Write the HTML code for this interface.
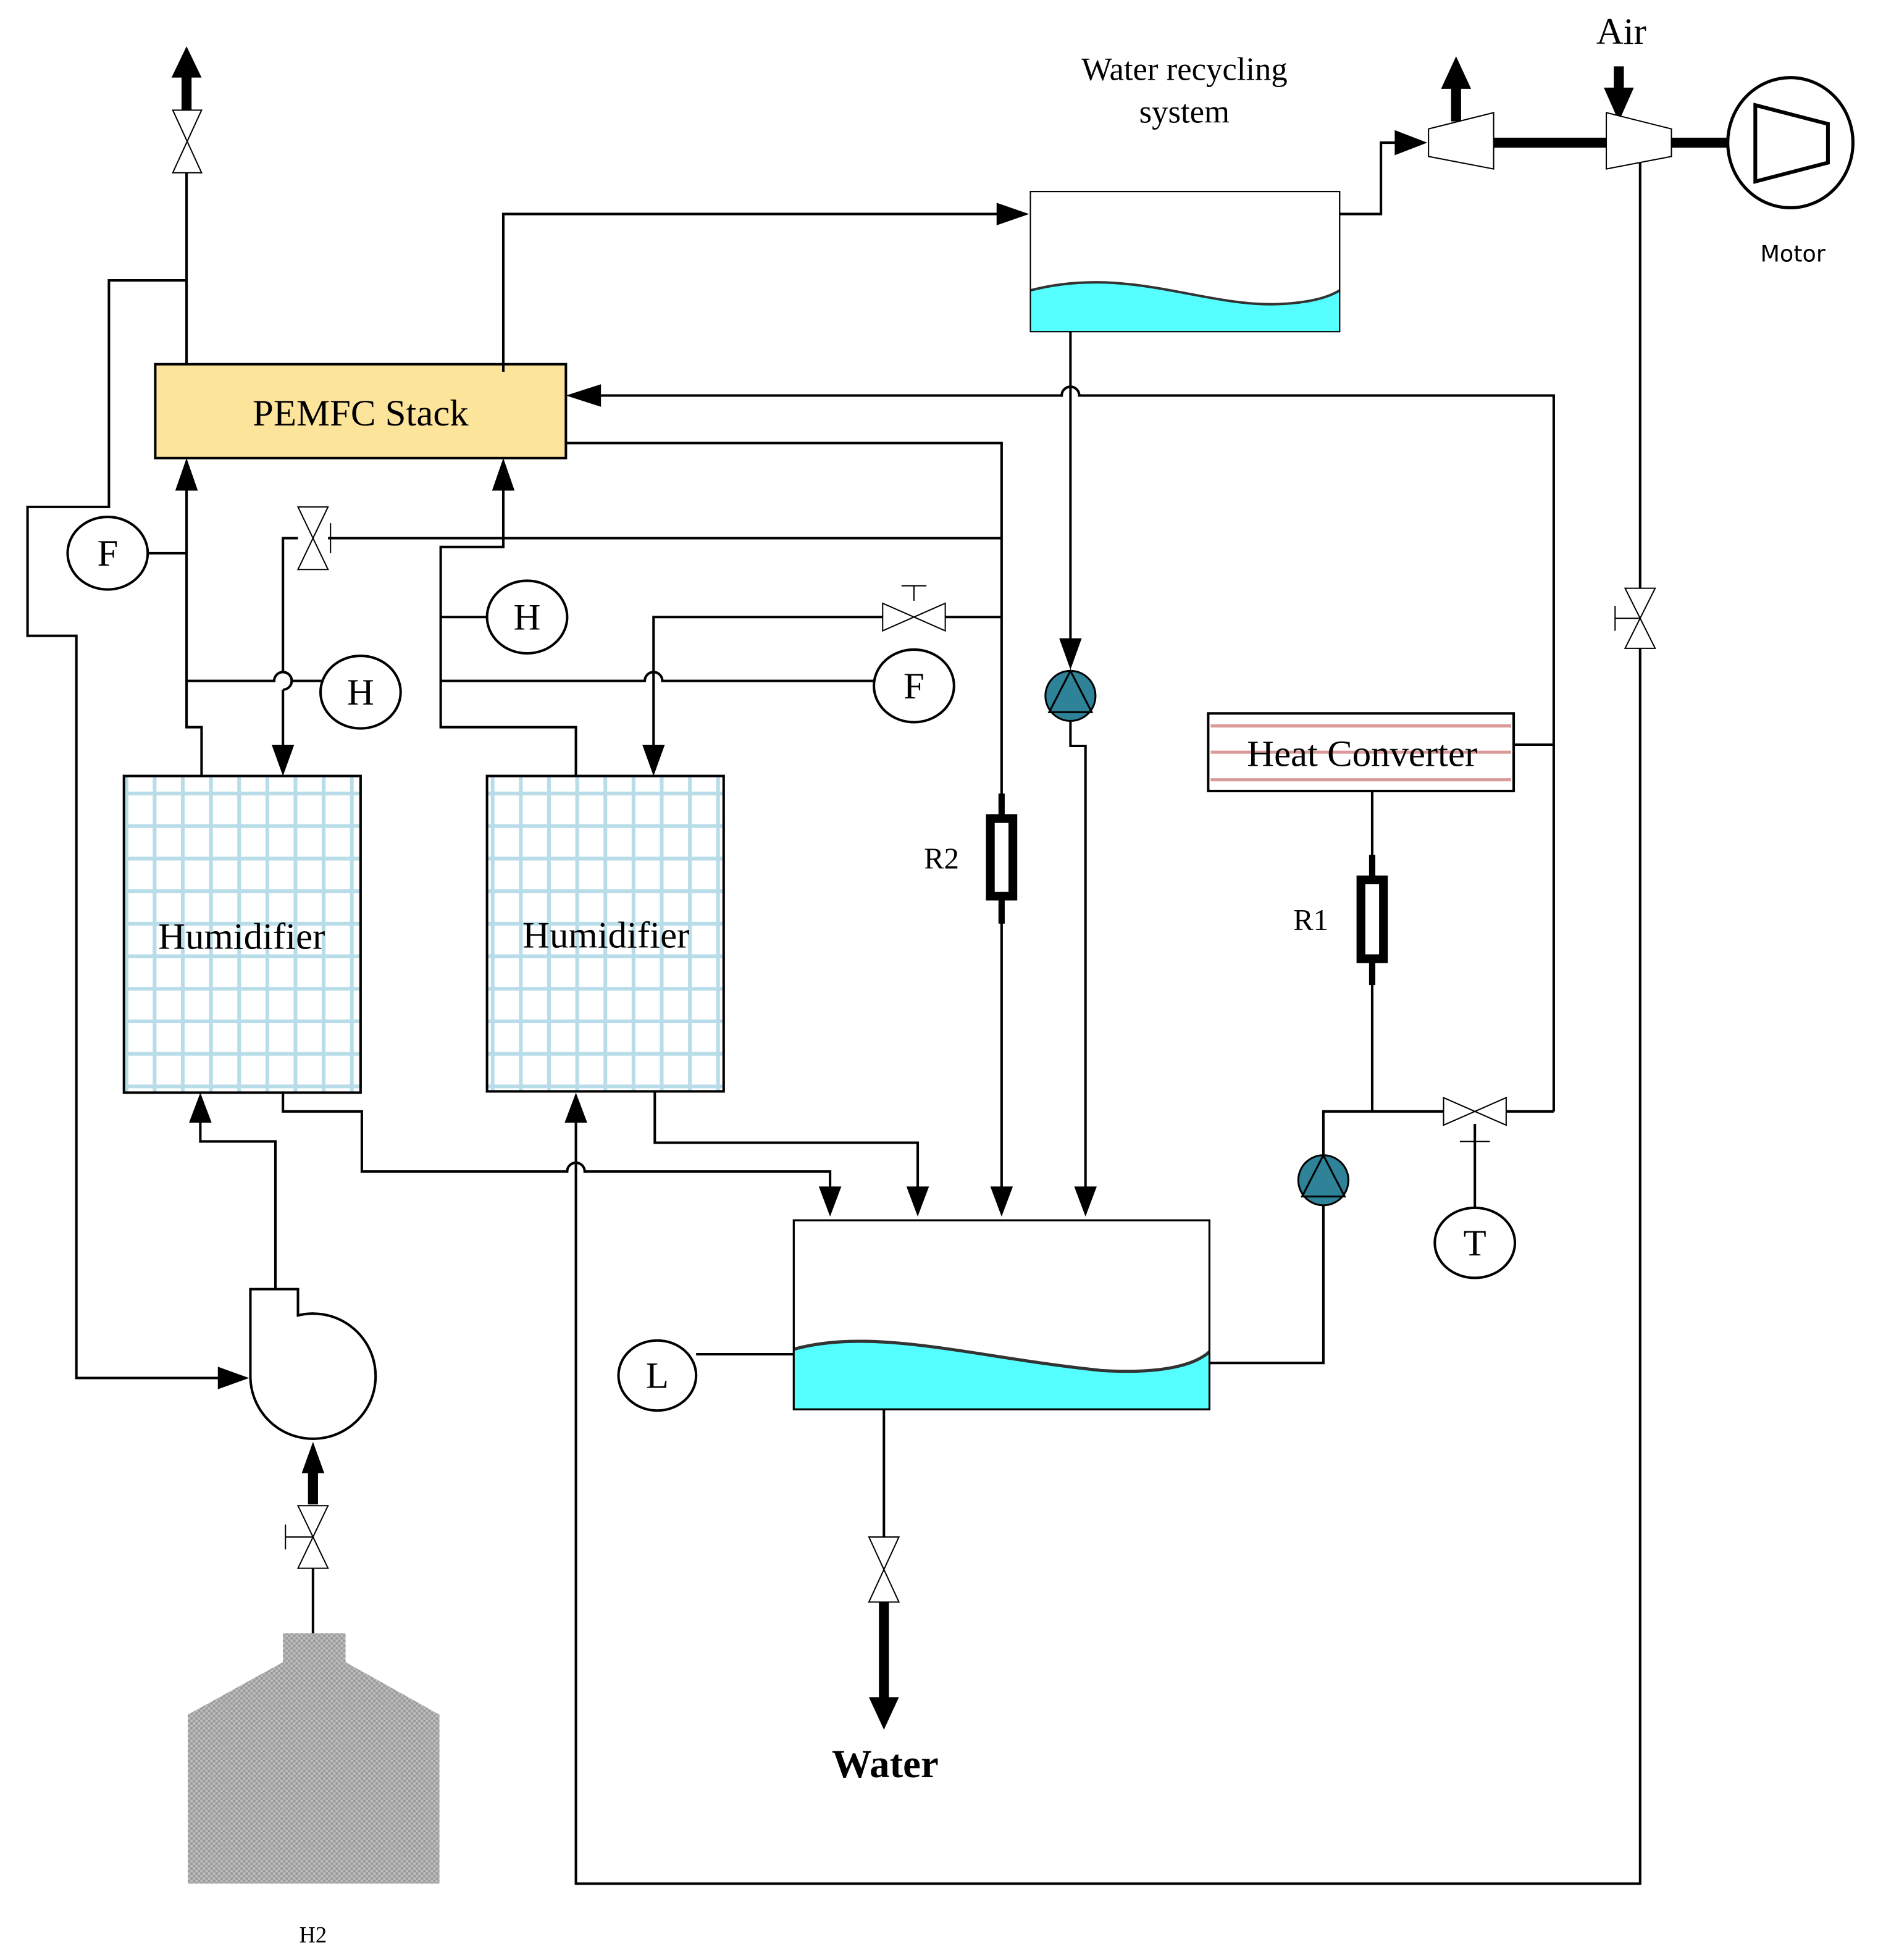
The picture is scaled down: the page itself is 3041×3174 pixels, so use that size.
<!DOCTYPE html>
<html><head><meta charset="utf-8"><style>
html,body{margin:0;padding:0;background:#fff}
svg{display:block}
text{font-family:"Liberation Serif",serif}
</style></head><body>
<svg xmlns="http://www.w3.org/2000/svg" width="3041" height="3174" viewBox="0 0 1500 1566" preserveAspectRatio="none">
<defs>
<pattern id="grid" x="0" y="0" width="22.5" height="26" patternUnits="userSpaceOnUse">
<rect width="22.5" height="26" fill="#fff"/>
<line x1="11" y1="0" x2="11" y2="26" stroke="#b8dde8" stroke-width="3"/>
<line x1="0" y1="10" x2="22.5" y2="10" stroke="#b8dde8" stroke-width="3"/>
</pattern>
<pattern id="hatch" width="4" height="4" patternUnits="userSpaceOnUse">
<rect width="4" height="4" fill="#bdbdbd"/><rect width="2" height="2" fill="#9a9a9a"/><rect x="2" y="2" width="2" height="2" fill="#9a9a9a"/>
</pattern>
</defs>
<g fill="none" stroke="#000" stroke-width="2">
<line x1="149" y1="138" x2="149" y2="291"/>
<polyline points="149,224 87,224 87,405 22,405 22,508 61,508 61,1101 180,1101"/>
<polyline points="402,297 402,171 800,171"/>
<polyline points="1070,171 1103,171 1103,114 1120,114"/>
<path d="M1241,888 L1241,316 L862,316 A7,7 0 0 0 848,316 L472,316"/>
<line x1="1209" y1="595" x2="1241" y2="595"/>
<polyline points="1203,888 1241,888"/>
<polyline points="1153,888 1057,888 1057,923"/>
<line x1="1096" y1="632" x2="1096" y2="888"/>
<line x1="1178" y1="898" x2="1178" y2="965"/>
<line x1="1166" y1="912" x2="1190" y2="912" stroke-width="1"/>
<polyline points="1057,963 1057,1089 966,1089"/>
<polyline points="452,354 800,354 800,952"/>
<polyline points="800,430 262,430"/>
<polyline points="238,430 226,430 226,537"/>
<path d="M226,537 A7,7 0 0 1 226,551" />
<line x1="226" y1="551" x2="226" y2="600"/>
<polyline points="402,386 402,437 352,437 352,581 460,581 460,620"/>
<line x1="352" y1="493" x2="390" y2="493"/>
<path d="M352,544 L515,544 A7,7 0 0 1 529,544 L698,544"/>
<polyline points="800,493 755,493"/>
<polyline points="705,493 522,493 522,600"/>
<line x1="730" y1="480" x2="730" y2="468" stroke-width="1"/>
<line x1="720" y1="468" x2="740" y2="468" stroke-width="1"/>
<polyline points="149,386 149,581 161,581 161,620"/>
<line x1="118" y1="442" x2="149" y2="442"/>
<path d="M149,544 L219,544 A7,7 0 0 1 233,544 L257,544"/>
<path d="M226,873 L226,888 L289,888 L289,936 L453,936 A7,7 0 0 1 467,936 L663,936 L663,952"/>
<polyline points="523,872 523,913 733,913 733,952"/>
<polyline points="220,1030 220,912 160,912 160,893"/>
<polyline points="1310,128 1310,470"/>
<polyline points="1310,518 1310,1505 460,1505 460,893"/>
<line x1="1290" y1="494" x2="1310" y2="494" stroke-width="1"/>
<line x1="1290" y1="484" x2="1290" y2="504" stroke-width="1"/>
<line x1="855" y1="265" x2="855" y2="515"/>
<polyline points="855,576 855,596 867,596 867,952"/>
<line x1="556" y1="1082" x2="634" y2="1082"/>
<line x1="706" y1="1126" x2="706" y2="1228"/>
<line x1="250" y1="1253" x2="250" y2="1305"/>
<line x1="228" y1="1228" x2="250" y2="1228" stroke-width="1"/>
<line x1="228" y1="1218" x2="228" y2="1238" stroke-width="1"/>
</g>
<g fill="#000">
<polygon points="822,171 796,162 796,180"/>
<polygon points="1140,114 1114,104 1114,124"/>
<polygon points="452,316 480,307 480,325"/>
<polygon points="800,972 791,948 809,948"/>
<polygon points="226,620 217,595 235,595"/>
<polygon points="522,620 513,595 531,595"/>
<polygon points="149,366 140,392 158,392"/>
<polygon points="402,366 393,392 411,392"/>
<polygon points="160,873 151,897 169,897"/>
<polygon points="460,873 451,897 469,897"/>
<polygon points="663,972 654,948 672,948"/>
<polygon points="733,972 724,948 742,948"/>
<polygon points="867,972 858,948 876,948"/>
<polygon points="855,535 846,510 864,510"/>
<polygon points="199,1101 174,1092 174,1110"/>
<polygon points="250,1152 241,1177 259,1177"/>
<polygon points="149,37 137,62 161,62"/><rect x="145" y="60" width="8" height="29"/>
<polygon points="1163,45 1151,71 1175,71"/><rect x="1159" y="69" width="8" height="28"/>
<polygon points="1293,97 1281,70 1305,70"/><rect x="1289" y="53" width="8" height="20"/>
<rect x="246" y="1175" width="8" height="27"/>
<rect x="702" y="1280" width="8" height="80"/>
<polygon points="706,1382 694,1356 718,1356"/>
</g>
<g fill="#fff" stroke="#000" stroke-width="1">
<polygon points="138,88 161,88 138,138 161,138"/>
<polygon points="238,405 262,405 238,455 262,455"/>
<line x1="264" y1="418" x2="264" y2="442"/>
<polygon points="705,482 705,504 755,482 755,504"/>
<polygon points="1153,877 1153,899 1203,877 1203,899"/>
<polygon points="1298,470 1322,470 1298,518 1322,518"/>
<polygon points="238,1203 262,1203 238,1253 262,1253"/>
<polygon points="694,1228 718,1228 694,1280 718,1280"/>
<polygon points="1141,103 1193,90 1193,135 1141,125"/>
<polygon points="1283,90 1335,103 1335,125 1283,135"/>
</g>
<rect x="1193" y="110" width="90" height="8" fill="#000"/>
<rect x="1335" y="110" width="46" height="8" fill="#000"/>
<ellipse cx="1430" cy="114" rx="50" ry="52" fill="#fff" stroke="#000" stroke-width="2.5"/>
<polygon points="1402,84 1460,99 1460,130 1402,145" fill="none" stroke="#000" stroke-width="3"/>
<rect x="124" y="291" width="328" height="75" fill="#fde49b" stroke="#000" stroke-width="2"/>
<line x1="402" y1="291" x2="402" y2="297" stroke="#000" stroke-width="2"/>
<text x="288" y="340" font-size="30" text-anchor="middle">PEMFC Stack</text>
<rect x="823" y="153" width="247" height="112" fill="#fff" stroke="#000" stroke-width="1"/>
<path d="M823,232 C900,212 960,245 1020,243 C1048,242 1062,237 1070,232 L1070,265 L823,265 Z" fill="#55ffff"/>
<path d="M823,232 C900,212 960,245 1020,243 C1048,242 1062,237 1070,232" fill="none" stroke="#333" stroke-width="2"/>
<rect x="823" y="153" width="247" height="112" fill="none" stroke="#000" stroke-width="1"/>
<text x="946" y="64" font-size="26" text-anchor="middle">Water recycling</text>
<text x="946" y="98" font-size="26" text-anchor="middle">system</text>
<text x="1295" y="35" font-size="30" text-anchor="middle">Air</text>
<text x="1432" y="209" font-size="18" text-anchor="middle" style="font-family:'DejaVu Sans',sans-serif">Motor</text>
<rect x="965" y="570" width="244" height="62" fill="#fff" stroke="#000" stroke-width="2"/>
<g stroke="#d99a98" stroke-width="2.5"><line x1="967" y1="580" x2="1207" y2="580"/><line x1="967" y1="601" x2="1207" y2="601"/><line x1="967" y1="623" x2="1207" y2="623"/></g>
<text x="1088" y="612" font-size="30" text-anchor="middle">Heat Converter</text>
<g stroke="#000" fill="#fff">
<line x1="1096" y1="683" x2="1096" y2="787" stroke-width="5"/>
<rect x="1087" y="703" width="18" height="63" stroke-width="7"/>
<line x1="800" y1="634" x2="800" y2="738" stroke-width="5"/>
<rect x="791" y="654" width="18" height="62" stroke-width="7"/>
</g>
<text x="1047" y="743" font-size="24" text-anchor="middle">R1</text>
<text x="752" y="694" font-size="24" text-anchor="middle">R2</text>
<g stroke="#000" stroke-width="1.5">
<circle cx="855" cy="556" r="20" fill="#2e8399"/>
<polygon points="855,536 838,569 872,569" fill="none"/>
<circle cx="1057" cy="943" r="20" fill="#2e8399"/>
<polygon points="1057,923 1040,956 1074,956" fill="none"/>
</g>
<g fill="#fff" stroke="#000" stroke-width="2">
<ellipse cx="86" cy="442" rx="32" ry="29"/>
<ellipse cx="288" cy="553" rx="32" ry="29"/>
<ellipse cx="421" cy="493" rx="32" ry="29"/>
<ellipse cx="730" cy="548" rx="32" ry="29"/>
<ellipse cx="1178" cy="993" rx="32" ry="28"/>
<ellipse cx="525" cy="1099" rx="31" ry="28"/>
</g>
<g font-size="30" text-anchor="middle">
<text x="86" y="452">F</text><text x="288" y="563">H</text><text x="421" y="503">H</text>
<text x="730" y="558">F</text><text x="1178" y="1003">T</text><text x="525" y="1109">L</text>
</g>
<rect x="99" y="620" width="189" height="253" fill="url(#grid)" stroke="#000" stroke-width="2"/>
<rect x="389" y="620" width="189" height="252" fill="url(#grid)" stroke="#000" stroke-width="2"/>
<text x="193" y="758" font-size="30" text-anchor="middle">Humidifier</text>
<text x="484" y="757" font-size="30" text-anchor="middle">Humidifier</text>
<rect x="634" y="975" width="332" height="151" fill="#fff" stroke="#000" stroke-width="1.5"/>
<path d="M634,1078 C700,1060 780,1085 880,1095 C930,1098 955,1090 966,1080 L966,1126 L634,1126 Z" fill="#55ffff"/>
<path d="M634,1078 C700,1060 780,1085 880,1095 C930,1098 955,1090 966,1080" fill="none" stroke="#333" stroke-width="2.5"/>
<rect x="634" y="975" width="332" height="151" fill="none" stroke="#000" stroke-width="1.5"/>
<text x="707" y="1420" font-size="32" font-weight="bold" text-anchor="middle">Water</text>
<path d="M200,1100 L200,1030 L238,1030 L238,1051 A50,50 0 1 1 200,1100 Z" fill="#fff" stroke="#000" stroke-width="2"/>
<path d="M226,1305 L276,1305 L276,1328 L351,1370 L351,1505 L150,1505 L150,1370 L226,1328 Z" fill="url(#hatch)"/>
<text x="250" y="1552" font-size="18" text-anchor="middle">H2</text>
</svg>
</body></html>
